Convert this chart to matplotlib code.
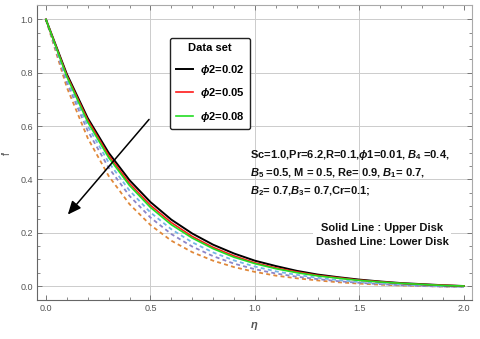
import matplotlib
matplotlib.use('Agg')
import matplotlib.pyplot as plt
import numpy as np

plt.rcParams['font.family'] = ['Liberation Sans', 'DejaVu Sans']
plt.rcParams['mathtext.fontset'] = 'custom'
plt.rcParams['mathtext.rm'] = 'Liberation Sans:bold'
plt.rcParams['mathtext.it'] = 'Liberation Sans:italic:bold'
plt.rcParams['mathtext.bf'] = 'Liberation Sans:bold'

# eta grid and profiles
eta = [0.0, 0.1, 0.2, 0.3, 0.4, 0.5, 0.6, 0.7, 0.8, 0.9, 1.0,
       1.1, 1.2, 1.3, 1.4, 1.5, 1.6, 1.7, 1.8, 1.9, 2.0]

# solid lines: upper disk
upper_002 = [1.0, 0.795, 0.630, 0.500, 0.397, 0.315, 0.249, 0.197, 0.155, 0.122, 0.095,
             0.075, 0.057, 0.043, 0.033, 0.024, 0.017, 0.011, 0.007, 0.003, 0.0]
upper_005 = [1.0, 0.790, 0.623, 0.490, 0.385, 0.303, 0.238, 0.186, 0.145, 0.113, 0.087,
             0.068, 0.053, 0.040, 0.031, 0.022, 0.016, 0.010, 0.006, 0.003, 0.0]
upper_008 = [1.0, 0.785, 0.615, 0.482, 0.377, 0.295, 0.230, 0.180, 0.140, 0.108, 0.084,
             0.065, 0.050, 0.038, 0.029, 0.021, 0.015, 0.010, 0.006, 0.002, 0.0]

# dashed lines: lower disk
lower_a = [1.0, 0.775, 0.600, 0.464, 0.358, 0.276, 0.213, 0.164, 0.126, 0.096, 0.073,
           0.055, 0.042, 0.031, 0.022, 0.015, 0.010, 0.005, 0.002, -0.001, -0.003]
lower_b = [1.0, 0.763, 0.582, 0.444, 0.338, 0.257, 0.195, 0.148, 0.112, 0.084, 0.063,
           0.047, 0.035, 0.026, 0.018, 0.012, 0.007, 0.003, 0.0, -0.002, -0.003]
lower_c = [1.0, 0.745, 0.555, 0.413, 0.307, 0.229, 0.170, 0.127, 0.095, 0.071, 0.053,
           0.039, 0.029, 0.021, 0.014, 0.009, 0.005, 0.002, 0.0, -0.002, -0.003]

labels = [r'$\phi$2=0.02', r'$\phi$2=0.05', r'$\phi$2=0.08']

fig = plt.figure(figsize=(4.8, 3.39), dpi=100)
ax = fig.add_axes([0.077, 0.115, 0.906, 0.87])

grey = '#555555'
dash = (0, (2.2, 1.8))

# dashed first, solid on top
ax.plot(eta, lower_c, color='#E0883A', lw=1.3, ls=dash)
ax.plot(eta, lower_b, color='#8C84C8', lw=1.3, ls=dash)
ax.plot(eta, lower_a, color='#74B6E4', lw=1.3, ls=dash)

ax.plot(eta, upper_002, color='black', lw=1.4, label=labels[0])
ax.plot(eta, upper_005, color='#FF1A1A', lw=1.2, label=labels[1])
ax.plot(eta, upper_008, color='#22DD22', lw=1.2, label=labels[2])

ax.set_xlim(-0.043, 2.038)
ax.set_ylim(-0.0525, 1.054)

ax.set_xticks([0.0, 0.5, 1.0, 1.5, 2.0])
ax.set_xticks(np.arange(0, 2.01, 0.1), minor=True)
ax.set_yticks([0.0, 0.2, 0.4, 0.6, 0.8, 1.0])
ax.set_yticks(np.arange(0, 1.01, 0.05), minor=True)
ax.tick_params(which='both', direction='in', top=True, right=True,
               colors='#777777', labelcolor=grey, labelsize=6.5, pad=3)
ax.tick_params(which='major', length=3.5, width=0.7)
ax.tick_params(which='minor', length=2, width=0.6)

ax.grid(True, which='major', color='#cccccc', lw=0.7)
xg = ax.get_xgridlines()
xg[0].set_visible(False)
xg[-1].set_visible(False)
ax.set_axisbelow(True)

for side in ['left', 'bottom']:
    ax.spines[side].set_color('#666666')
for side in ['top', 'right']:
    ax.spines[side].set_color('#aaaaaa')

ax.set_xlabel(r'$\eta$', color=grey, fontsize=8, labelpad=5,
              fontfamily='DejaVu Sans')
ax.set_ylabel("f'", color=grey, fontsize=7, labelpad=6)

# arrow showing increasing phi2
ax.annotate('', xy=(0.096, 0.26), xytext=(0.502, 0.633),
            arrowprops=dict(arrowstyle='-|>,head_length=0.8,head_width=0.35',
                            color='black', lw=1.1))

leg = ax.legend(loc='upper left', bbox_to_anchor=(0.306, 0.889),
                borderaxespad=0, title='Data set', fancybox=True,
                edgecolor='#222222', framealpha=1,
                handlelength=1.6, handletextpad=0.6, labelspacing=0.85,
                borderpad=0.5, prop={'weight': 'bold', 'size': 8})
leg.get_title().set_fontweight('bold')
leg.get_title().set_fontsize(8)
leg.get_frame().set_linewidth(1.0)

params = [r'Sc=1.0,Pr=6.2,R=0.1,$\phi$1=0.01, $B_4$ =0.4,',
          r'$B_5$ =0.5, M = 0.5, Re= 0.9, $B_1$= 0.7,',
          r'$B_2$= 0.7,$B_3$= 0.7,Cr=0.1;']
for i, line in enumerate(params):
    ax.text(0.976, 0.491 - i * 0.0685, line, fontsize=8, fontweight='bold',
            va='center', ha='left', color='#111111')

ax.text(1.608, 0.191, 'Solid Line : Upper Disk\nDashed Line: Lower Disk',
        fontsize=8, fontweight='bold', ha='center', va='center',
        linespacing=1.45, color='#111111',
        bbox=dict(facecolor='white', edgecolor='none', pad=2))

fig.savefig('out.png', dpi=100)
